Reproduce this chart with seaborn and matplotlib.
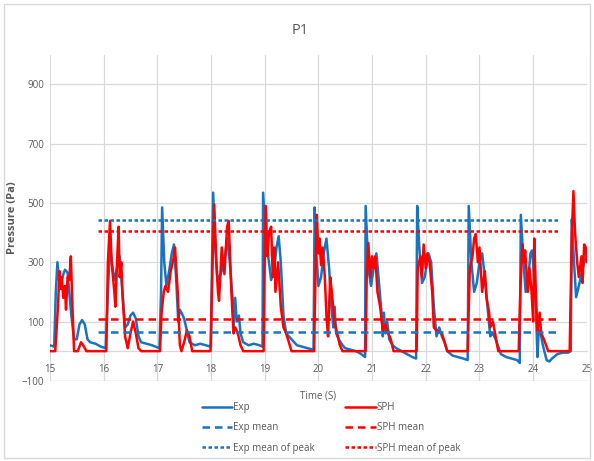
import matplotlib
matplotlib.use("Agg")
import matplotlib.pyplot as plt
import seaborn as sns
import pandas as pd
from matplotlib.patches import Rectangle
from matplotlib.lines import Line2D

# ---------------- data ----------------
exp_t = [15.0, 15.08, 15.11, 15.14, 15.17, 15.2, 15.25, 15.28, 15.33, 15.36, 15.4, 15.45, 15.5, 15.55, 15.6, 15.65, 15.7, 15.75, 15.85, 15.95, 16.04,
         16.08, 16.12, 16.16, 16.2, 16.25, 16.3, 16.35, 16.4, 16.45, 16.5, 16.55, 16.6, 16.65, 16.7, 16.8, 16.9, 17.04,
         17.07, 17.09, 17.13, 17.17, 17.22, 17.27, 17.31, 17.35, 17.39, 17.42, 17.45, 17.5, 17.55, 17.6, 17.7, 17.8, 17.9, 18.0,
         18.02, 18.04, 18.08, 18.12, 18.18, 18.25, 18.3, 18.35, 18.4, 18.42, 18.45, 18.48, 18.52, 18.55, 18.6, 18.7, 18.8, 18.9, 18.96,
         18.97, 19.02, 19.08, 19.12, 19.18, 19.22, 19.26, 19.3, 19.35, 19.4, 19.5, 19.6, 19.7, 19.8, 19.91,
         19.93, 19.96, 20.0, 20.05, 20.1, 20.15, 20.2, 20.25, 20.28, 20.3, 20.33, 20.38, 20.45, 20.5, 20.6, 20.7, 20.8, 20.87,
         20.88, 20.93, 20.98, 21.03, 21.08, 21.12, 21.18, 21.2, 21.22, 21.25, 21.28, 21.32, 21.38, 21.45, 21.55, 21.65, 21.75, 21.82,
         21.84, 21.88, 21.93, 21.98, 22.05, 22.1, 22.15, 22.2, 22.25, 22.3, 22.35, 22.4, 22.5, 22.6, 22.7, 22.78,
         22.8, 22.85, 22.9, 22.95, 23.0, 23.05, 23.1, 23.15, 23.2, 23.25, 23.3, 23.4, 23.5, 23.6, 23.7, 23.75,
         23.77, 23.82, 23.86, 23.9, 23.95, 23.98, 24.0, 24.05, 24.08, 24.1, 24.13, 24.18, 24.25, 24.3, 24.35, 24.45, 24.55, 24.65, 24.7,
         24.72, 24.76, 24.8, 24.85, 24.9, 24.95, 25.0]
exp_p = [20, 15, 200, 300, 240, 220, 260, 275, 265, 200, 120, 40, 40, 90, 105, 90, 40, 30, 25, 15, 10,
         200, 360, 290, 240, 280, 320, 200, 80, 90, 120, 130, 110, 50, 30, 25, 20, 10,
         200, 485, 300, 220, 270, 330, 360, 250, 100, 140, 130, 110, 70, 30, 20, 25, 20, 15,
         300, 535, 350, 240, 260, 300, 380, 300, 180, 80, 180, 100, 120, 60, 30, 20, 25, 20, 15,
         535, 380, 300, 240, 280, 350, 388, 300, 120, 60, 40, 20, 15, 10, 5,
         485, 330, 220, 250, 330, 380, 280, 130, 80, 150, 60, 40, 20, 10, 5, 0, -10, -20,
         490, 280, 220, 280, 330, 250, 120, 50, 130, 60, 100, 40, 20, 10, 0, -10, -20, -25,
         490, 350, 230, 250, 330, 300, 150, 50, 80, 50, 30, 0, -15, -20, -25, -30,
         490, 300, 200, 230, 300, 330, 250, 150, 50, 60, 40, -10, -20, -25, -30, -40,
         460, 300, 200, 230, 330, 340, 300, 150, -20, 60, 70, 20, -30, -35, -25, -10, -5, -5, 0,
         445, 300, 182, 220, 260, 300, 320]

sph_t = [15.0, 15.1, 15.15, 15.18, 15.2, 15.22, 15.25, 15.28, 15.3, 15.33, 15.36, 15.39, 15.42, 15.45, 15.52, 15.58, 15.62, 15.68, 16.05,
         16.08, 16.12, 16.15, 16.2, 16.22, 16.25, 16.28, 16.3, 16.33, 16.35, 16.4, 16.45, 16.5, 16.55, 16.6, 16.65, 16.7, 17.05,
         17.08, 17.12, 17.15, 17.2, 17.25, 17.3, 17.33, 17.38, 17.42, 17.45, 17.5, 17.55, 17.6, 17.65, 17.99,
         18.03, 18.06, 18.1, 18.13, 18.15, 18.2, 18.25, 18.3, 18.33, 18.38, 18.42, 18.45, 18.5, 18.55, 18.6, 18.98,
         19.0, 19.02, 19.05, 19.08, 19.12, 19.15, 19.18, 19.2, 19.25, 19.3, 19.35, 19.4, 19.45, 19.5, 19.92,
         19.95, 19.97, 20.0, 20.02, 20.05, 20.08, 20.12, 20.15, 20.18, 20.22, 20.25, 20.3, 20.35, 20.4, 20.45, 20.88,
         20.9, 20.93, 20.97, 21.0, 21.03, 21.06, 21.1, 21.15, 21.2, 21.25, 21.3, 21.35, 21.4, 21.83,
         21.85, 21.9, 21.93, 21.96, 22.0, 22.03, 22.07, 22.12, 22.15, 22.2, 22.3, 22.4, 22.78,
         22.82, 22.87, 22.9, 22.93, 22.97, 23.0, 23.05, 23.1, 23.13, 23.18, 23.2, 23.25, 23.3, 23.35, 23.73,
         23.76, 23.8, 23.83, 23.85, 23.9, 23.93, 23.97, 24.0, 24.02, 24.05, 24.08, 24.12, 24.15, 24.2, 24.28, 24.68,
         24.72, 24.75, 24.78, 24.82, 24.85, 24.9, 24.92, 24.95, 24.98, 25.0]
sph_p = [0, 0, 150, 270, 210, 250, 180, 220, 140, 250, 240, 320, 150, 0, 0, 30, 20, 0, 0,
         300, 440, 300, 200, 150, 300, 420, 250, 300, 200, 50, 10, 60, 100, 60, 10, 0, 0,
         130, 200, 220, 200, 270, 310, 350, 200, 20, 0, 30, 70, 50, 0, 0,
         300, 495, 300, 200, 170, 350, 260, 420, 440, 200, 60, 80, 60, 20, 0, 0,
         300, 490, 320, 400, 420, 250, 350, 200, 300, 150, 80, 60, 30, 0, 0,
         300, 460, 330, 380, 290, 350, 250, 120, 50, 250, 200, 100, 60, 20, 0, 0,
         250, 365, 250, 320, 280, 320, 200, 150, 70, 90, 60, 40, 0, 0,
         280, 320, 250, 360, 280, 330, 300, 200, 80, 70, 60, 0, 0,
         280, 320, 380, 395, 300, 350, 200, 270, 180, 130, 80, 100, 50, 0, 0,
         200, 360, 300, 340, 200, 280, 200, 100, 380, 200, 60, 130, 60, 40, 0, 0,
         400, 540, 400, 300, 250, 320, 230, 360, 350, 300]

ref_t = [15.9, 24.5]
exp_mean = 65
sph_mean = 110
exp_peak_mean = 442
sph_peak_mean = 405

x_ticks = list(range(15, 26))
y_ticks = [-100, 100, 300, 500, 700, 900]

# ---------------- plot ----------------
sns.set_theme(style="white")
plt.rcParams['font.family'] = ['Open Sans', 'DejaVu Sans']

BLUE = "#1a73c0"
RED = "#ff0000"
GRID = "#d9d9d9"
TXT = "#595959"

fig = plt.figure(figsize=(5.94, 4.61), dpi=100)
ax = fig.add_axes([0.084, 0.174, 0.904, 0.707])

exp_df = pd.DataFrame({"t": exp_t, "p": exp_p})
sph_df = pd.DataFrame({"t": sph_t, "p": sph_p})

sns.lineplot(data=exp_df, x="t", y="p", ax=ax, color=BLUE, lw=1.8, estimator=None, sort=False, zorder=3)
sns.lineplot(data=sph_df, x="t", y="p", ax=ax, color=RED, lw=1.8, estimator=None, sort=False, zorder=4)

dash_long = (3.0, 2.0)
dash_short = (1.4, 1.0)
for val, col, ds in [(exp_mean, BLUE, dash_long), (sph_mean, RED, dash_long),
                     (exp_peak_mean, BLUE, dash_short), (sph_peak_mean, RED, dash_short)]:
    sns.lineplot(x=ref_t, y=[val, val], ax=ax, color=col, lw=1.8, dashes=False, zorder=5).lines[-1].set_dashes(ds)

ax.set_xlim(15, 25)
ax.set_ylim(-100, 1000)
ax.set_xticks(x_ticks)
ax.set_yticks(y_ticks)
ax.grid(True, color=GRID, lw=0.9)
for s in ["top", "right", "left"]:
    ax.spines[s].set_visible(False)
ax.spines["bottom"].set_position(("data", 0))
ax.spines["bottom"].set_color(GRID)
ax.spines["bottom"].set_linewidth(0.9)
ax.axhline(-100, color=GRID, lw=0.9, zorder=0)
ax.tick_params(axis="both", length=0, labelsize=7, labelcolor=TXT, pad=4)
ax.tick_params(axis="x", pad=9)

ax.set_xlabel("Time (S)", fontsize=7, color=TXT, labelpad=0)
ax.xaxis.set_label_coords(0.5, -0.03)
ax.set_ylabel("Pressure (Pa)", fontsize=8, color=TXT, fontweight="bold")
ax.yaxis.set_label_coords(-0.06, 0.5)
fig.text(0.505, 0.933, "P1", ha="center", va="center", fontsize=10.5, color=TXT)

handles = [
    Line2D([], [], color=BLUE, lw=1.8),
    Line2D([], [], color=BLUE, lw=1.8, dashes=dash_long),
    Line2D([], [], color=BLUE, lw=1.8, dashes=dash_short),
    Line2D([], [], color=RED, lw=1.8),
    Line2D([], [], color=RED, lw=1.8, dashes=dash_long),
    Line2D([], [], color=RED, lw=1.8, dashes=dash_short),
]
labels = ["Exp", "Exp mean", "Exp mean of peak", "SPH", "SPH mean", "SPH mean of peak"]
leg = fig.legend(handles, labels, ncol=2, loc="center", bbox_to_anchor=(0.557, 0.072),
                 frameon=False, fontsize=7, handlelength=3.1, handletextpad=0.1,
                 columnspacing=3.2, labelspacing=0.95)
for t in leg.get_texts():
    t.set_color(TXT)

fig.patches.append(Rectangle((0.006, 0.006), 0.988, 0.985, transform=fig.transFigure,
                             fill=False, edgecolor="#d9d9d9", lw=1.0))

fig.savefig("out.png", dpi=100, facecolor="white")
